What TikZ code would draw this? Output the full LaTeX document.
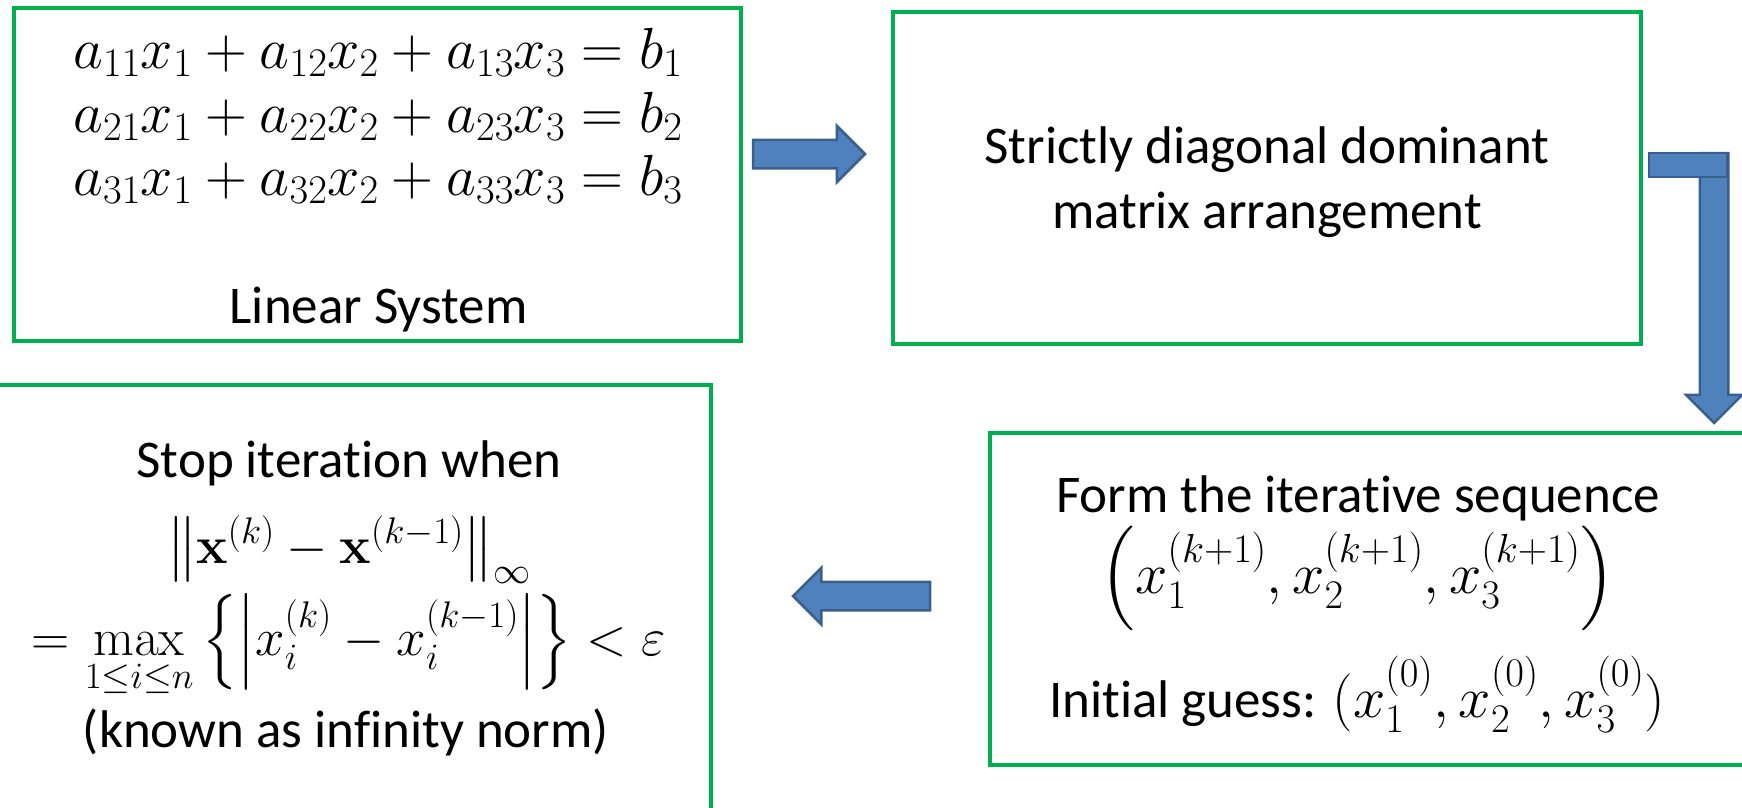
\documentclass[tikz,border=0pt]{standalone}
\usepackage{fix-cm}
\usepackage{amsmath,amssymb}
\usepackage[no-math]{fontspec}
\setmainfont{Carlito}[Ligatures={NoCommon,NoContextual}]
\usetikzlibrary{calc,shapes.arrows}

\definecolor{boxgreen}{HTML}{00B050}
\definecolor{arrowblue}{HTML}{4F81BD}
\definecolor{arrowedge}{HTML}{3A5F8B}

\begin{document}
\begin{tikzpicture}[
    x=1pt, y=-1pt,
    stepbox/.style n args={2}{
        draw=boxgreen,
        line width=4pt,
        minimum width=#1,
        minimum height=#2,
        inner sep=0pt,
        outer sep=0pt
    },
    blockarrow/.style={
        single arrow,
        draw=arrowedge,
        fill=arrowblue,
        line width=2.5pt,
        single arrow head extend=14pt,
        single arrow head indent=0pt,
        inner xsep=0pt,
        inner ysep=13pt,
        outer sep=0pt
    },
    blockbar/.style={draw=arrowedge, fill=arrowblue, line width=2.5pt},
    bigmath/.style={font=\fontsize{58}{62}\selectfont},
    every node/.style={font=\fontsize{53}{62}\selectfont, inner sep=0pt}
]
\clip (0,0) rectangle (1742,808);

% ---- boxes ----
\node[stepbox={727pt}{333pt}] (linsys) at (377.5,174.5) {};
\node[stepbox={748pt}{332pt}] (ddm) at (1267,178) {};
\node[stepbox={760pt}{332pt}] (iter) at (1370,599) {};
\node[stepbox={726pt}{445pt}] (stop) at (348,607.5) {};

% ---- linear system ----
\node[bigmath, anchor=base] (eqA) at ($(linsys.north)+(0.5,60)$)
    {$a_{11}x_1 + a_{12}x_2 + a_{13}x_3 = b_1$};
\node[bigmath, anchor=base] (eqB) at ($(linsys.north)+(0.5,124)$)
    {$a_{21}x_1 + a_{22}x_2 + a_{23}x_3 = b_2$};
\node[bigmath, anchor=base] (eqC) at ($(linsys.north)+(0.5,187)$)
    {$a_{31}x_1 + a_{32}x_2 + a_{33}x_3 = b_3$};
\node[anchor=base] (linlabel) at ($(linsys.north)+(1,315)$) {Linear System};

% ---- diagonal dominance ----
\node[anchor=base] (ddmA) at ($(ddm.north)+(0,151)$) {Strictly diagonal dominant};
\node[anchor=base] (ddmB) at ($(ddm.north)+(0,216)$) {matrix arrangement};

% ---- iterative sequence ----
\node[anchor=base] (iterA) at ($(iter.north west)+(368,79)$) {Form the iterative sequence};
\node[bigmath, anchor=base] (iterB) at ($(iter.north west)+(368,160)$)
    {$\left(x_1^{(k+1)}, x_2^{(k+1)}, x_3^{(k+1)}\right)$};
\node[anchor=base] (iterC) at ($(iter.north west)+(367,284)$)
    {Initial guess: \fontsize{58}{62}\selectfont$(x_1^{(0)}, x_2^{(0)}, x_3^{(0)})$};

% ---- stopping rule ----
\node[anchor=base] (stopA) at ($(stop.north)+(1,92)$) {Stop iteration when};
\node[anchor=base] (stopB) at ($(stop.north)+(1,178)$)
    {$\left\|\mathbf{x}^{(k)} - \mathbf{x}^{(k-1)}\right\|_\infty$};
\node[anchor=base] (stopC) at ($(stop.north)+(1,270)$)
    {$= \max\limits_{1\le i\le n}\left\{\left|x_i^{(k)} - x_i^{(k-1)}\right|\right\} < \varepsilon$};
\node[anchor=base] (stopD) at ($(stop.north)+(-2,362)$) {(known as infinity norm)};

% ---- block arrows ----
\node[blockarrow, minimum height=112pt, anchor=tail]
    (arrA) at ($(linsys.east)+(12,-20.5)$) {};
\node[blockarrow, shape border rotate=270, inner xsep=13pt, inner ysep=0pt,
      minimum height=270pt, anchor=tip]
    (arrC) at ($(ddm.east)+(73,245)$) {};
\draw[blockbar] ($(ddm.east)+(8,-25)$) rectangle ($(ddm.east)+(86,-1)$);
\node[blockarrow, shape border rotate=180, minimum height=137pt, anchor=tail]
    (arrB) at ($(iter.west)+(-60,-3)$) {};

\end{tikzpicture}
\end{document}
